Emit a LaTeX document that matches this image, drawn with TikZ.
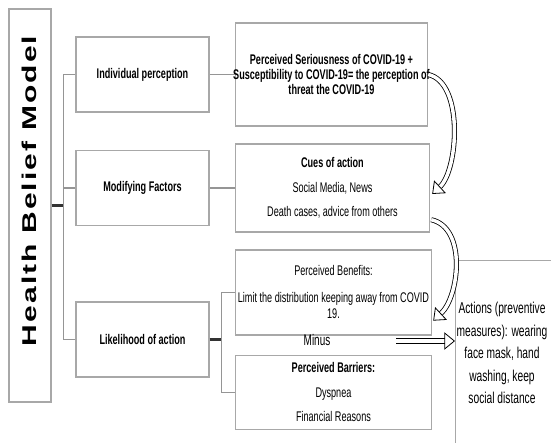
\documentclass[tikz,border=0pt]{standalone}
\usepackage{fontspec}
\usepackage{graphicx}
\setmainfont{Liberation Sans}[FakeStretch=0.65]
\newfontfamily\titlefont{Liberation Sans}[LetterSpace=7]
\usetikzlibrary{arrows.meta,positioning,calc}
\definecolor{boxgray}{HTML}{A8A8A8}
\definecolor{linegray}{HTML}{959595}

\begin{document}
\begin{tikzpicture}[
	x=0.75pt,y=-0.75pt,
	box/.style={draw=boxgray,line width=1.1pt,rectangle,fill=white,align=center,inner sep=0pt,font=\fontsize{10.5}{12}\selectfont},
	lbox/.style={box,minimum width=99.75pt,minimum height=56.25pt,font=\fontsize{10.5}{12}\selectfont\bfseries},
	link/.style={draw=linegray,line width=1.1pt},
	trunk/.style={draw=black!80,line width=1.8pt},
	hollow/.style={draw=black,line width=0.6pt,double=white,double distance=2.6pt,-{Triangle[open,length=8pt,width=13pt]}}
	]
	
	\useasboundingbox (0,0) rectangle (551,443);
	\clip (0,0) rectangle (551,443);
	
	% Model
	\node[box,minimum width=31.5pt,minimum height=294.75pt] (hbm) at (30,205.5) {};
	\node[rotate=90,font=\titlefont\fontsize{22.5}{24}\selectfont\bfseries] (title) at (29.5,191) {\scalebox{1}[0.665]{Health Belief Model}};
	
	% Constructs
	\node[lbox] (ind) at (142.5,74.5) {Individual perception};
	\node[lbox,below=27.75pt of ind] (mod) {Modifying Factors};
	\node[lbox,below=56.25pt of mod] (lik) {Likelihood of action};
	
	% Details
	\node[box,minimum width=144pt,minimum height=77.25pt,font=\fontsize{10.5}{11.5}\selectfont\bfseries,right=18.75pt of ind] (ser) {Perceived Seriousness of COVID-19 +\\\makebox[144pt]{Susceptibility to COVID-19= the perception of}\\threat the COVID-19};
	\node[box,minimum width=145.5pt,minimum height=66pt,right=18.75pt of mod] (cues) {\textbf{Cues of action}\\[6.4pt]Social Media, News\\[6.4pt]Death cases, advice from others};
	\node[box,minimum width=147pt,minimum height=63.75pt,right=18.75pt of lik,yshift=35.25pt] (ben) {Perceived Benefits:\\[8.2pt]Limit the distribution keeping away from COVID\\19.};
	\node[box,minimum width=147pt,minimum height=55.5pt,below=14.25pt of ben] (bar) {\textbf{Perceived Barriers:}\\[6.4pt]Dyspnea\\[6.4pt]Financial Reasons};
	\node[font=\fontsize{11.5}{13}\selectfont] (minus) at (317,340) {Minus};
	
	% Actions
	\node[box,minimum width=120pt,minimum height=150pt,anchor=north west] (act) at (455,260) {};
	\node[align=center,font=\fontsize{11.8}{16.9}\selectfont] (acttxt) at (502,353) {Actions (preventive\\measures): wearing\\face mask, hand\\washing, keep\\social distance};
	
	% Links
	\draw[trunk] (hbm.east) -- ++(12,0) coordinate (hub);
	\draw[link] (ind.west) -| (hub) |- (lik.west);
	\draw[link] (mod.west) -- (mod.west -| hub);
	\draw[link] (ind) -- (ser);
	\draw[link] (mod) -- (cues);
	\draw[trunk] (lik.east) -- ++(12,0) coordinate (split);
	\draw[link] (ben.west) -| (split) |- (bar.west);
	
	% Hollow arrows
	\draw[hollow] (ser.east) .. controls +(36,8) and +(26,-24) .. ($(cues.east)+(2,6)$);
	\draw[hollow] ($(cues.south east)+(1,-13)$) .. controls +(36,8) and +(26,-24) .. ($(ben.south east)+(1,-15)$);
	\coordinate (mfrom) at (396,341);
	\draw[hollow] (mfrom) -- (mfrom -| act.west);
	
\end{tikzpicture}
\end{document}
